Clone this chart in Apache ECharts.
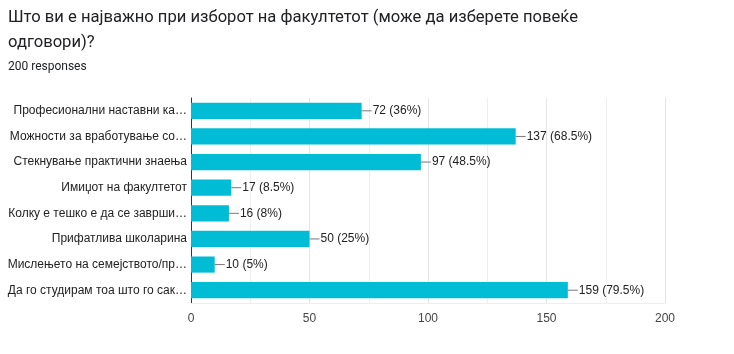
<!DOCTYPE html>
<html>
<head>
<meta charset="utf-8">
<script src="https://cdn.jsdelivr.net/npm/echarts@6/dist/echarts.min.js"></script>
<style>
  html, body { margin: 0; padding: 0; background: #fff; }
  #chart-container { width: 734px; height: 354px; }
</style>
</head>
<body>
<div id="chart-container"></div>
<script>
var categories = [
    'Професионални наставни ка…',
    'Можности за вработување со…',
    'Стекнување практични знаења',
    'Имиџот на факултетот',
    'Колку е тешко е да се заврши…',
    'Прифатлива школарина',
    'Мислењето на семејството/пр…',
    'Да го студирам тоа што го сак…'
];
var counts = [72, 137, 97, 17, 16, 50, 10, 159];
var percents = ['36%', '68.5%', '48.5%', '8.5%', '8%', '25%', '5%', '79.5%'];
var xTicks = [0, 50, 100, 150, 200];

var dom = document.getElementById('chart-container');
var myChart = echarts.init(dom, null, { renderer: 'canvas' });

var titleFont = 'Roboto, Arial, sans-serif';

var option = {
    animation: false,
    textStyle: { fontFamily: 'Arial, "Liberation Sans", sans-serif' },
    graphic: [
        {
            type: 'text', left: 8, top: 9,
            style: { text: 'Што ви е најважно при изборот на факултетот (може да изберете повеќе', fontSize: 16.6, fill: '#202124', fontFamily: titleFont }
        },
        {
            type: 'text', left: 8, top: 34,
            style: { text: 'одговори)?', fontSize: 16.6, fill: '#202124', fontFamily: titleFont }
        },
        {
            type: 'text', left: 8, top: 61,
            style: { text: '200 responses', fontSize: 12, fill: '#202124', fontFamily: titleFont }
        }
    ],
    grid: { left: 191, right: 69, top: 98, bottom: 51, containLabel: false },
    xAxis: {
        type: 'value',
        min: xTicks[0],
        max: xTicks[xTicks.length - 1],
        interval: 50,
        axisLine: { show: true, lineStyle: { color: '#eeeeee' } },
        axisTick: { show: false },
        axisLabel: { color: '#444', fontSize: 12, margin: 10 },
        splitLine: { show: true, lineStyle: { color: '#e4e4e4' } },
        minorTick: { show: false, splitNumber: 2 },
        minorSplitLine: { show: true, lineStyle: { color: '#eeeeee' } }
    },
    yAxis: {
        type: 'category',
        inverse: true,
        data: categories,
        axisLine: { show: true, lineStyle: { color: '#333' } },
        axisTick: { show: false },
        axisLabel: { color: '#222', fontSize: 12, margin: 4 }
    },
    series: [
        {
            type: 'bar',
            data: counts,
            barCategoryGap: '37%',
            itemStyle: { color: '#00BCD4' },
            label: {
                show: true,
                position: 'right',
                distance: 0,
                formatter: function (p) {
                    return '{l|}{t|' + p.value + ' (' + percents[p.dataIndex] + ')}';
                },
                rich: {
                    l: { width: 10, height: 1, backgroundColor: '#777' },
                    t: { color: '#222', fontSize: 12, padding: [0, 0, 0, 1] }
                }
            }
        }
    ]
};

myChart.setOption(option);
window.addEventListener('resize', myChart.resize);
</script>
</body>
</html>
